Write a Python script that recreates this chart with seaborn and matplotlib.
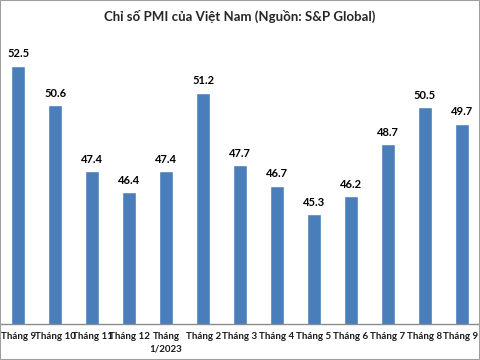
import matplotlib
matplotlib.use("Agg")
import matplotlib.pyplot as plt
import seaborn as sns
import pandas as pd
import numpy as np
from matplotlib.patches import Rectangle

months = ["Tháng 9", "Tháng 10", "Tháng 11", "Tháng 12", "Tháng\n1/2023", "Tháng 2",
          "Tháng 3", "Tháng 4", "Tháng 5", "Tháng 6", "Tháng 7", "Tháng 8", "Tháng 9 "]
pmi = [52.5, 50.6, 47.4, 46.4, 47.4, 51.2, 47.7, 46.7, 45.3, 46.2, 48.7, 50.5, 49.7]
title = "Chỉ số PMI của Việt Nam (Nguồn: S&P Global)"

df = pd.DataFrame({"month": months, "pmi": pmi})

sns.set_theme(style="white")
plt.rcParams['font.family'] = ['Lato', 'DejaVu Sans']

fig = plt.figure(figsize=(4.8, 3.6), dpi=100)
ax = fig.add_axes([0.0, 0.1, 1.0, 0.861])

sns.barplot(data=df, x="month", y="pmi", color="#4a7ebb", saturation=1,
            width=0.38, ax=ax, order=months)
ax.set_ylim(40, 55)
ax.set_xlim(-0.5, len(months) - 0.5)

for i, v in enumerate(pmi):
    ax.annotate(f"{v}", (i, v), xytext=(0, 4.5), textcoords="offset points",
                ha="center", va="bottom", fontsize=8, fontweight="bold", color="black")

ax.set_xlabel("")
ax.set_ylabel("")
ax.set_yticks([])
for s in ["left", "right", "top"]:
    ax.spines[s].set_visible(False)
ax.spines["bottom"].set_color("#8c8c8c")
ax.spines["bottom"].set_linewidth(1)

ax.tick_params(axis="x", which="major", length=0, pad=6, labelsize=7)
for lab in ax.get_xticklabels():
    lab.set_fontweight("bold")
    lab.set_color("#1a1a1a")
    lab.set_linespacing(1.5)
ax.set_xticks(np.arange(len(months) + 1) - 0.5, minor=True)
ax.tick_params(axis="x", which="minor", length=4, color="#8c8c8c", width=1)

fig.text(0.5, 0.955, title, ha="center", va="center", fontsize=9.5, fontweight="bold")

fig.patches.append(Rectangle((0, 0), 1, 1, transform=fig.transFigure, fill=False,
                             edgecolor="#a0a0a0", linewidth=1.5))

fig.savefig("out.png", dpi=100)
